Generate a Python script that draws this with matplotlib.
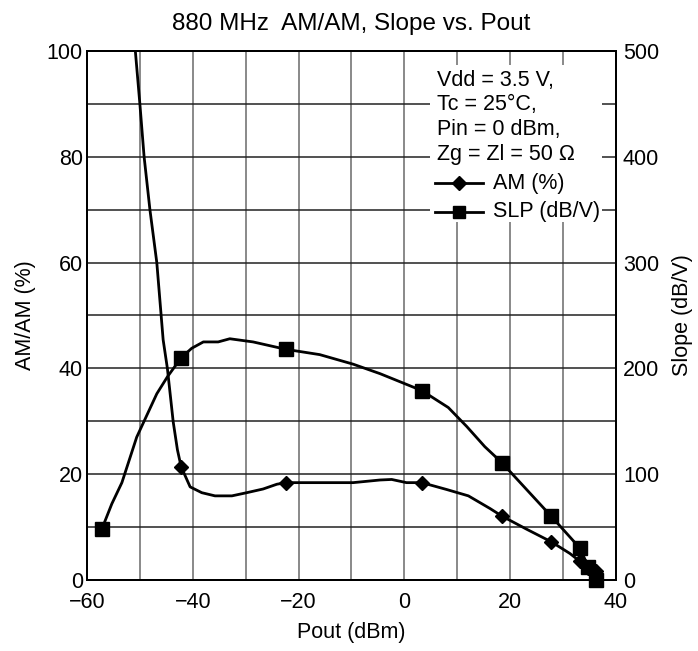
import matplotlib
matplotlib.use("Agg")
import matplotlib.pyplot as plt
from matplotlib.lines import Line2D
from matplotlib.patches import Rectangle

plt.rcParams.update({
    "font.family": ["Liberation Sans", "DejaVu Sans"],
    "font.size": 15.5,
    "axes.unicode_minus": True,
})

# AM/AM (%) vs Pout (dBm), left axis
am_x = [-51.2, -50.0, -49.2, -48.1, -46.8, -45.6, -44.8, -43.7, -42.9, -42.2,
        -40.5, -38.3, -35.8, -32.6, -29.8, -26.7, -24.1, -22.4, -9.7, -4.6,
        -2.4, 0.4, 3.3, 8.0, 12.1, 16.2, 18.4, 23.1, 27.8, 31.3, 33.2, 34.8, 36.3]
am_y = [104, 90, 80, 70, 60, 45.4, 40, 29.9, 24.6, 21.4,
        17.6, 16.5, 15.9, 15.9, 16.5, 17.2, 18.1, 18.4, 18.4, 18.9,
        19.0, 18.4, 18.4, 17.1, 15.9, 13.5, 12.1, 9.6, 7.2, 5.0, 3.5, 2.3, 1.7]
am_marks = [9, 17, 22, 26, 28, 30, 31, 32]

# Slope (dB/V) vs Pout (dBm), right axis
slp_x = [-57.2, -55.3, -53.4, -50.6, -46.8, -44.8, -42.2, -40.2, -38.0, -35.2,
         -33.0, -28.6, -22.4, -16.0, -9.7, -4.6, 3.3, 8.3, 11.8, 15.2,
         18.4, 27.8, 33.2, 34.8, 36.3]
slp_y = [48, 72, 92, 135, 176, 192, 210, 219, 225, 225,
         228, 225, 218, 213, 204, 195, 179, 163, 145, 126,
         111, 60, 30, 12, 0]
slp_marks = [0, 6, 12, 16, 20, 21, 22, 23, 24]

x_ticks = [-60, -40, -20, 0, 20, 40]
left_ticks = [0, 20, 40, 60, 80, 100]
right_ticks = [0, 100, 200, 300, 400, 500]

conditions = ["Vdd = 3.5 V,", "Tc = 25\u00b0C,", "Pin = 0 dBm,", "Zg = Zl = 50 \u03a9"]
series_names = ["AM (%)", "SLP (dB/V)"]

fig = plt.figure(figsize=(6.98, 6.51), dpi=100)
ax = fig.add_axes([0.1246, 0.1091, 0.7579, 0.8126])
ax2 = ax.twinx()

ax.set_xlim(-60, 40)
ax.set_ylim(0, 100)
ax2.set_ylim(0, 500)

# grid every 10 units
for gx in range(-50, 40, 10):
    ax.axvline(gx, color="#6a6a6a", lw=1.1, zorder=0)
for gy in range(10, 100, 10):
    ax.axhline(gy, color="#222222", lw=1.1, zorder=0)

# white legend box that hides the grid (drawn on the upper twin axes)
ax2.add_patch(Rectangle((0.648, 0.677), 0.326, 0.297, transform=ax2.transAxes,
                        facecolor="white", edgecolor="none", zorder=1))

ax.plot(am_x, am_y, color="black", lw=2, marker="D", ms=7,
        markevery=am_marks, zorder=3)
ax2.plot(slp_x, slp_y, color="black", lw=2, marker="s", ms=9.5,
         markevery=slp_marks, clip_on=False, zorder=3)

ax.set_xticks(x_ticks)
ax.set_yticks(left_ticks)
ax2.set_yticks(right_ticks)
ax.tick_params(axis="x", length=0, pad=9)
ax.tick_params(axis="y", length=0, pad=3)
ax2.tick_params(axis="y", length=0, pad=5)
for a in (ax, ax2):
    for s in a.spines.values():
        s.set_linewidth(1.4)
        s.set_color("black")

ax.set_xlabel("Pout (dBm)", labelpad=6)
ax.set_ylabel("AM/AM (%)", labelpad=8)
ax2.set_ylabel("Slope (dB/V)", labelpad=9)
ax.set_title("880 MHz  AM/AM, Slope vs. Pout", fontsize=17.5, pad=15)

# legend text and samples
for i, line in enumerate(conditions):
    ax2.text(0.662, 0.945 - i * 0.047, line, transform=ax2.transAxes,
             fontsize=15.5, va="center", ha="left", zorder=4)
for i, (name, mk, size) in enumerate(zip(series_names, ["D", "s"], [7.5, 9])):
    yy = 0.750 - i * 0.054
    ax2.add_line(Line2D([0.658, 0.749], [yy, yy], transform=ax2.transAxes,
                        color="black", lw=2, zorder=4))
    ax2.add_line(Line2D([0.703], [yy], transform=ax2.transAxes, color="black",
                        marker=mk, ms=size, zorder=4))
    ax2.text(0.767, yy, name, transform=ax2.transAxes, fontsize=15.5,
             va="center", ha="left", zorder=4)

fig.savefig("out.png", dpi=100)
